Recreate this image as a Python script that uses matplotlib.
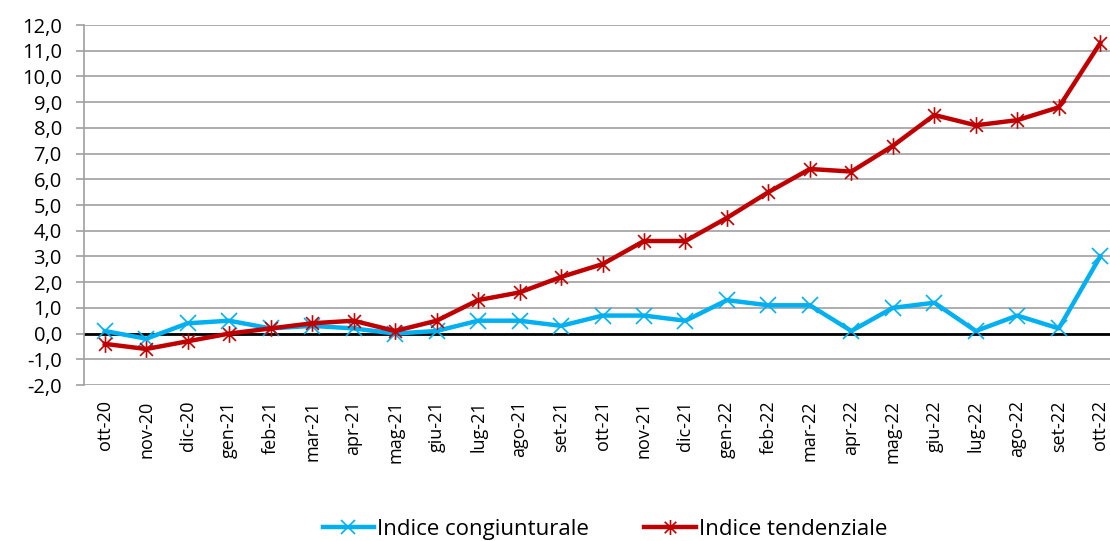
import numpy as np
import matplotlib
matplotlib.use("Agg")
import matplotlib.pyplot as plt
from matplotlib.path import Path

plt.rcParams['font.family'] = ['Open Sans', 'DejaVu Sans']

mesi = ["ott-20", "nov-20", "dic-20", "gen-21", "feb-21", "mar-21", "apr-21",
        "mag-21", "giu-21", "lug-21", "ago-21", "set-21", "ott-21", "nov-21",
        "dic-21", "gen-22", "feb-22", "mar-22", "apr-22", "mag-22", "giu-22",
        "lug-22", "ago-22", "set-22", "ott-22"]
congiunturale = [0.1, -0.2, 0.4, 0.5, 0.2, 0.3, 0.2, 0.0, 0.1, 0.5, 0.5, 0.3,
                 0.7, 0.7, 0.5, 1.3, 1.1, 1.1, 0.1, 1.0, 1.2, 0.1, 0.7, 0.2, 3.0]
tendenziale = [-0.4, -0.6, -0.3, 0.0, 0.2, 0.4, 0.5, 0.1, 0.5, 1.3, 1.6, 2.2,
               2.7, 3.6, 3.6, 4.5, 5.5, 6.4, 6.3, 7.3, 8.5, 8.1, 8.3, 8.8, 11.3]
yticks = np.arange(-2, 13, 1)

# asterisco stile excel: x + barra verticale
aster = Path([(-1, -1), (1, 1), (-1, 1), (1, -1), (0, -1.3), (0, 1.3)],
             [Path.MOVETO, Path.LINETO, Path.MOVETO, Path.LINETO, Path.MOVETO, Path.LINETO])

fig = plt.figure(figsize=(11.1, 5.41), dpi=100)
n = len(mesi)
# asse che esce un po' a destra come nel grafico originale
ax = fig.add_axes([84 / 1110, 1 - 385 / 541, (1121 - 84) / 1110, 360 / 541])
x = np.arange(n)

ax.axhline(0, color="black", lw=2, zorder=2)
ax.plot(x, congiunturale, color="#00B0F0", lw=3.2, marker="x", markersize=11,
        markeredgewidth=1.2, label="Indice congiunturale", zorder=3)
ax.plot(x, tendenziale, color="#C00000", lw=3.2, marker=aster, markersize=12,
        markeredgewidth=1.2, label="Indice tendenziale", zorder=4)

ax.set_xlim(-0.5, n - 0.5)
ax.set_ylim(-2, 12)
ax.set_yticks(yticks)
ax.set_yticklabels([f"{v:.1f}".replace(".", ",") for v in yticks], fontsize=14.5)
ax.yaxis.grid(True, color="#A0A0A0", lw=1.2)
ax.set_axisbelow(True)
ax.set_xticks(x)
ax.set_xticklabels(mesi, rotation=90, fontsize=13)
ax.tick_params(axis="x", length=0, pad=11)
ax.tick_params(axis="y", length=6, color="#A0A0A0", width=1.2, pad=10)
for s in ["top", "right", "bottom"]:
    ax.spines[s].set_visible(False)
ax.spines["left"].set_color("#A0A0A0")
ax.spines["left"].set_linewidth(1.2)

fig.legend(loc="lower center", bbox_to_anchor=(0.545, -0.035), ncol=2,
           frameon=False, fontsize=16, handlelength=2.3, columnspacing=2.5,
           handletextpad=0.15, markerscale=0.9)

fig.savefig("out.png", dpi=100)
